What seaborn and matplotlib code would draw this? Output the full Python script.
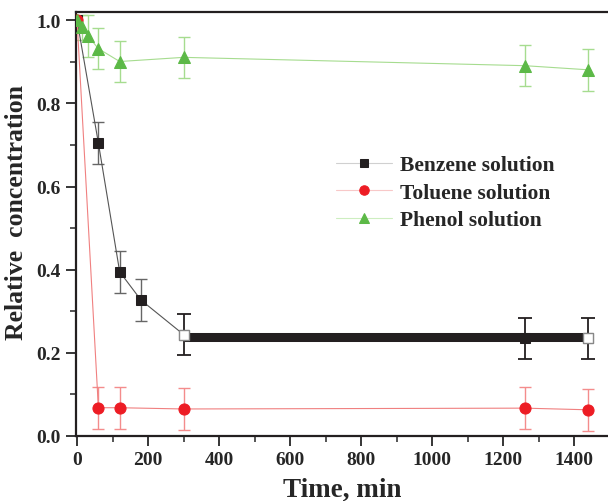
# Relative concentration vs time

import seaborn as sns
import matplotlib.pyplot as plt
import pandas as pd
from matplotlib.ticker import MultipleLocator

benz_t = [0, 60, 120, 180, 300, 1260, 1440]
benz_c = [1.0, 0.705, 0.395, 0.327, 0.244, 0.235, 0.235]
benz_e = [0, 0.05, 0.05, 0.05, 0.05, 0.05, 0.05]

# the thick black band over the benzene plateau
band_t = [300, 1260, 1440]
band_c = [0.237, 0.237, 0.237]

tol_t = [0, 60, 120, 300, 1260, 1440]
tol_c = [1.0, 0.068, 0.068, 0.065, 0.067, 0.063]
tol_e = [0, 0.05, 0.05, 0.05, 0.05, 0.05]

phe_t = [0, 15, 30, 60, 120, 300, 1260, 1440]
phe_c = [1.0, 0.983, 0.963, 0.932, 0.901, 0.911, 0.891, 0.881]
phe_e = [0, 0.03, 0.05, 0.05, 0.05, 0.05, 0.05, 0.05]

benz = pd.DataFrame({"t": benz_t, "c": benz_c})
tol = pd.DataFrame({"t": tol_t, "c": tol_c})
phe = pd.DataFrame({"t": phe_t, "c": phe_c})

sns.set_style("ticks")
plt.rcParams['font.family'] = ['Liberation Serif', 'DejaVu Serif']
plt.rcParams['font.weight'] = 'bold'

fig = plt.figure(figsize=(6.08, 5.02), dpi=100)
ax = fig.add_axes([0.125, 0.1295, 0.875, 0.8445])

black = "#231f20"
red = "#ed1c24"
green = "#5cb947"

# error bars
ax.errorbar(benz_t[1:4], benz_c[1:4], yerr=benz_e[1:4], fmt="none", ecolor="#666666",
            elinewidth=1, capsize=4, capthick=1, zorder=2)
ax.errorbar(benz_t[4:], benz_c[4:], yerr=benz_e[4:], fmt="none", ecolor=black,
            elinewidth=1.3, capsize=5, capthick=1.3, zorder=2)
ax.errorbar(tol_t[1:], tol_c[1:], yerr=tol_e[1:], fmt="none", ecolor="#f48c8c",
            elinewidth=1, capsize=4, capthick=1, zorder=2)
ax.errorbar(phe_t[1:], phe_c[1:], yerr=phe_e[1:], fmt="none", ecolor="#a6dc8f",
            elinewidth=1, capsize=4, capthick=1, zorder=2)

# lines with markers
sns.lineplot(x="t", y="c", data=benz, color="#555555", lw=0.8, marker="s", ms=7,
             mfc=black, mec=black, ax=ax, label="Benzene solution", zorder=3)
sns.lineplot(x="t", y="c", data=tol, color="#f08080", lw=0.8, marker="o", ms=8,
             mfc=red, mec=red, ax=ax, label="Toluene solution", zorder=3)
sns.lineplot(x="t", y="c", data=phe, color="#a6dc8f", lw=0.8, marker="^", ms=9,
             mfc=green, mec=green, ax=ax, label="Phenol solution", zorder=3)

# thick band and hollow squares at plateau ends
ax.plot(band_t, band_c, color=black, lw=6.5, solid_capstyle="butt", zorder=4)
ax.plot([benz_t[4], benz_t[6]], [benz_c[4], benz_c[6]], ls="none", marker="s", ms=7,
        mfc="white", mec="#888888", mew=1, zorder=5)

ax.set_xlim(-3, 1495)
ax.set_ylim(0, 1.02)
ax.xaxis.set_major_locator(MultipleLocator(200))
ax.xaxis.set_minor_locator(MultipleLocator(100))
ax.yaxis.set_major_locator(MultipleLocator(0.2))
ax.yaxis.set_minor_locator(MultipleLocator(0.1))
ax.yaxis.set_major_formatter(plt.FormatStrFormatter("%.1f"))

ax.spines['right'].set_visible(False)
for s in ['left', 'bottom', 'top']:
    ax.spines[s].set_linewidth(1.6)
    ax.spines[s].set_color("#231f20")
ax.tick_params(which="major", direction="out", length=7, width=1.3, labelsize=14, pad=4)
ax.tick_params(which="minor", direction="out", length=4, width=1.1)
ax.tick_params(top=False, right=False)

ax.set_xlabel("Time, min", fontsize=19.5, fontweight="bold", labelpad=6)
ax.set_ylabel("Relative  concentration", fontsize=18.5, fontweight="bold")
ax.yaxis.set_label_coords(-0.09, 0.53)

leg = ax.legend(loc="upper left", bbox_to_anchor=(0.452, 0.708), frameon=False,
                fontsize=15.5, handlelength=2.6, labelspacing=0.35, handletextpad=0.4,
                markerscale=0.85)
# legend lines are drawn very faint in the original
for h, c in zip(leg.get_lines(), ["#d0d0d0", "#f8c8c8", "#cdeec0"]):
    h.set_linewidth(0.8)
    h.set_color(c)

fig.savefig("out.png", dpi=100)
